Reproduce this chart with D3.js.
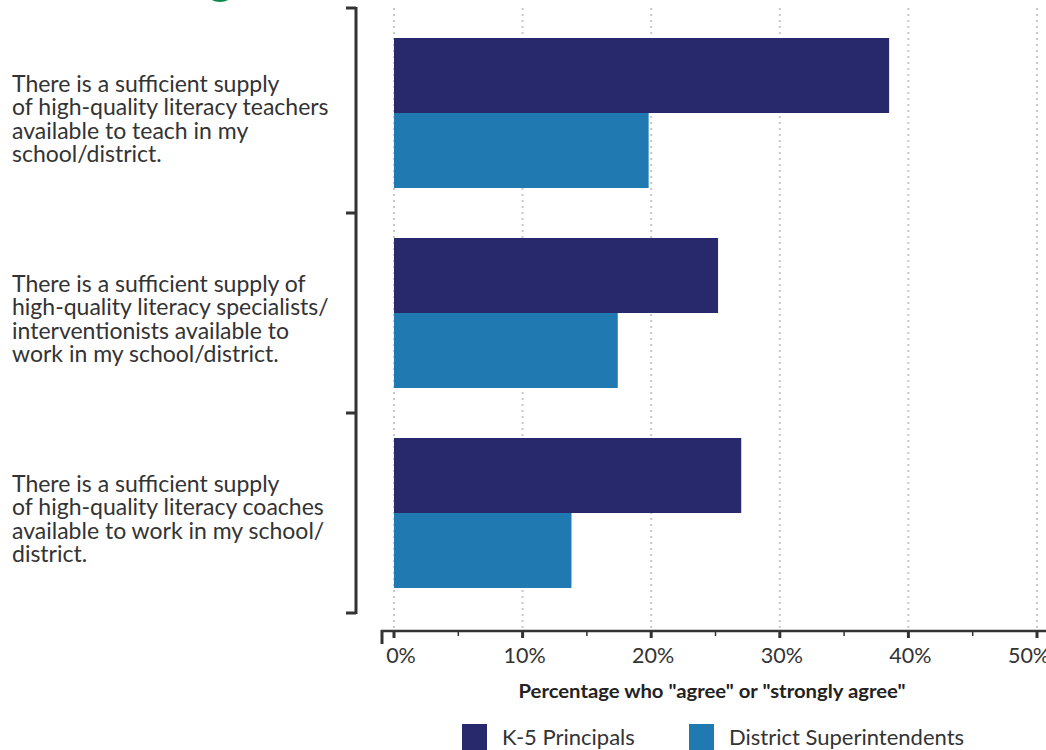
<!DOCTYPE html>
<html>
<head>
<meta charset="utf-8">
<script src="https://cdn.jsdelivr.net/npm/d3@7"></script>
<style>
  body { margin: 0; background: #fff; }
  #chart { width: 1046px; height: 750px; }
  text { font-family: Lato, "Open Sans", sans-serif; fill: #333; }
</style>
</head>
<body>
<div id="chart"></div>
<script>
const categories = [
    ['There is a sufficient supply', 'of high-quality literacy teachers', 'available to teach in my', 'school/district.'],
    ['There is a sufficient supply of', 'high-quality literacy specialists/', 'interventionists available to', 'work in my school/district.'],
    ['There is a sufficient supply', 'of high-quality literacy coaches', 'available to work in my school/', 'district.']
];
const seriesNames = ['K-5 Principals', 'District Superintendents'];
const principals = [38.5, 25.2, 27.0];
const superintendents = [19.8, 17.4, 13.8];
const xTicks = [0, 10, 20, 30, 40, 50];
const axisTitle = 'Percentage who "agree" or "strongly agree"';

const colors = ['#28286d', '#2079b0'];
const W = 1046, H = 750;

const svg = d3.select('#chart').append('svg')
    .attr('width', W)
    .attr('height', H);

// green mark cut off at the top
svg.append('ellipse')
    .attr('cx', 220).attr('cy', -7)
    .attr('rx', 13).attr('ry', 9)
    .attr('fill', '#0b8a4c');

const x = d3.scaleLinear().domain([0, 50]).range([394, 1037]);
const y = d3.scaleBand().domain(d3.range(categories.length)).range([13, 613]).paddingInner(0.25).paddingOuter(0.125);
const sub = d3.scaleBand().domain([0, 1]).range([0, y.bandwidth()]);

// gridlines
svg.append('g')
    .selectAll('line')
    .data(xTicks)
    .join('line')
    .attr('x1', d => x(d)).attr('x2', d => x(d))
    .attr('y1', 8).attr('y2', 631)
    .attr('stroke', '#c8c8c8')
    .attr('stroke-width', 2)
    .attr('stroke-dasharray', '2,4');

// bars
const rows = categories.map((c, i) => ({ i, vals: [principals[i], superintendents[i]] }));
const groups = svg.append('g')
    .selectAll('g')
    .data(rows)
    .join('g')
    .attr('transform', d => `translate(0,${y(d.i)})`);

groups.selectAll('rect')
    .data(d => d.vals.map((v, k) => ({ v, k })))
    .join('rect')
    .attr('x', x(0))
    .attr('y', d => sub(d.k))
    .attr('width', d => x(d.v) - x(0))
    .attr('height', sub.bandwidth())
    .attr('fill', d => colors[d.k]);

// category labels
const lineH = 23.5;
const labelG = svg.append('g');
categories.forEach((lines, i) => {
    const cy = y(i) + y.bandwidth() / 2 + 14;
    const t = labelG.append('text')
        .attr('x', 12)
        .attr('y', cy - (lines.length - 1) * lineH / 2)
        .attr('font-size', 23);
    lines.forEach((ln, j) => {
        t.append('tspan').attr('x', 12).attr('dy', j === 0 ? 0 : lineH).text(ln);
    });
});

// y axis bracket
const yEdges = [8].concat(d3.range(1, categories.length + 1).map(i => y.step() * i + 13));
svg.append('line')
    .attr('x1', 356).attr('x2', 356)
    .attr('y1', yEdges[0] - 1).attr('y2', yEdges[yEdges.length - 1] + 1)
    .attr('stroke', '#333').attr('stroke-width', 3);
svg.append('g')
    .selectAll('line')
    .data(yEdges)
    .join('line')
    .attr('x1', 346).attr('x2', 356)
    .attr('y1', d => d).attr('y2', d => d)
    .attr('stroke', '#333').attr('stroke-width', 3);

// x axis
const xAxisG = svg.append('g').attr('transform', 'translate(0,631)');
xAxisG.append('line')
    .attr('x1', 381).attr('x2', W)
    .attr('stroke', '#333').attr('stroke-width', 2.5);
xAxisG.append('line')
    .attr('x1', 382).attr('x2', 382).attr('y1', -1).attr('y2', 13)
    .attr('stroke', '#333').attr('stroke-width', 3);
xAxisG.selectAll('.major')
    .data(xTicks)
    .join('line')
    .attr('class', 'major')
    .attr('x1', d => x(d)).attr('x2', d => x(d))
    .attr('y1', 0).attr('y2', 7)
    .attr('stroke', '#333').attr('stroke-width', 3);
xAxisG.selectAll('.minor')
    .data(d3.range(5, 50, 10))
    .join('line')
    .attr('class', 'minor')
    .attr('x1', d => x(d)).attr('x2', d => x(d))
    .attr('y1', 0).attr('y2', 5)
    .attr('stroke', '#333').attr('stroke-width', 1.5);
// label nudges: first one sits right of its tick, last one pulled in from the edge
const tickNudge = d => d === 0 ? 7 : (d === 50 ? -8 : 2);
xAxisG.selectAll('.tick-label')
    .data(xTicks)
    .join('text')
    .attr('class', 'tick-label')
    .attr('x', d => x(d) + tickNudge(d))
    .attr('y', 32)
    .attr('text-anchor', 'middle')
    .attr('font-size', 21.5)
    .text(d => d + '%');

svg.append('text')
    .attr('x', 712)
    .attr('y', 698)
    .attr('text-anchor', 'middle')
    .attr('font-size', 18.5)
    .attr('font-weight', 'bold')
    .attr('textLength', 387)
    .attr('lengthAdjust', 'spacingAndGlyphs')
    .style('fill', '#222')
    .text(axisTitle);

// legend
const legendX = [462, 689];
const legend = svg.append('g')
    .selectAll('g')
    .data(seriesNames)
    .join('g')
    .attr('transform', (d, i) => `translate(${legendX[i]},724)`);
legend.append('rect')
    .attr('width', 25).attr('height', 26)
    .attr('fill', (d, i) => colors[i]);
legend.append('text')
    .attr('x', 40)
    .attr('y', 21)
    .attr('font-size', 22)
    .text(d => d);
</script>
</body>
</html>
